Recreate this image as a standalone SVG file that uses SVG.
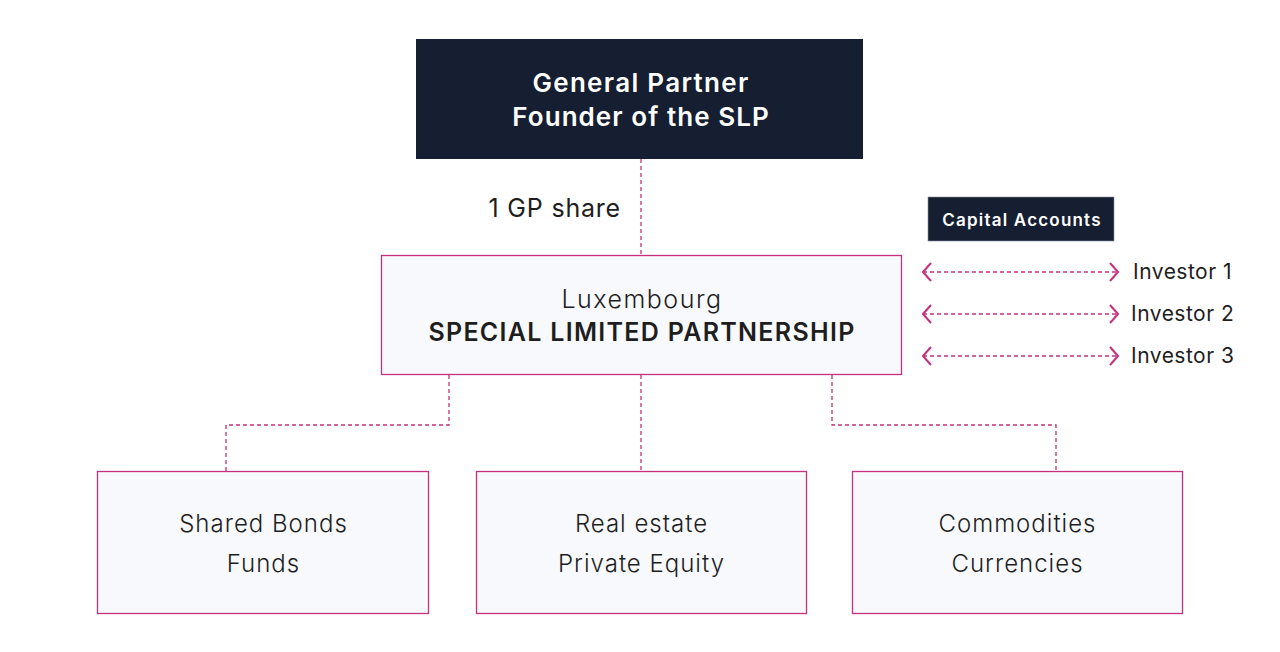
<svg xmlns="http://www.w3.org/2000/svg" width="1280" height="652" viewBox="0 0 1280 652">
<defs>
<style>
.dark{fill:#161e32}
.box{fill:#f8f9fd;stroke:#c4317c;stroke-width:1.3}
.con{fill:none;stroke:#c4317c;stroke-width:1.3;stroke-dasharray:4 3}
.t{font-family:Inter,"Noto Sans",sans-serif;fill:#1e1e1e;text-anchor:middle}
.w{fill:#ffffff;font-weight:600}
.b{font-size:24px;font-weight:300;letter-spacing:1px}
.inv{font-size:21px;letter-spacing:0.5px;text-anchor:start}
</style>
<marker id="ah" viewBox="0 0 10 20" refX="9" refY="10" markerWidth="10" markerHeight="20" markerUnits="userSpaceOnUse" orient="auto-start-reverse">
<path d="M1,1 L9,10 L1,19" fill="none" stroke="#c4317c" stroke-width="2"/>
</marker>
</defs>
<rect width="1280" height="652" fill="#ffffff"/>
<g id="connectors">
<line class="con" x1="641" y1="159" x2="641" y2="255"/>
<line class="con" x1="641" y1="375" x2="641" y2="471"/>
<polyline class="con" points="449,375 449,425 226,425 226,471"/>
<polyline class="con" points="832,375 832,425 1056,425 1056,471"/>
<line class="con" x1="923" y1="272" x2="1118" y2="272" marker-start="url(#ah)" marker-end="url(#ah)"/>
<line class="con" x1="923" y1="314" x2="1118" y2="314" marker-start="url(#ah)" marker-end="url(#ah)"/>
<line class="con" x1="923" y1="356" x2="1118" y2="356" marker-start="url(#ah)" marker-end="url(#ah)"/>
</g>
<g id="gp">
<rect class="dark" x="416" y="39" width="447" height="120"/>
<text class="t w" x="641" y="92" font-size="26" letter-spacing="1.3">General Partner</text>
<text class="t w" x="641" y="126" font-size="26" letter-spacing="1.05">Founder of the SLP</text>
</g>
<g id="gp-share">
<text class="t" x="621" y="217" font-size="25" letter-spacing="0.8" style="text-anchor:end">1 GP share</text>
</g>
<g id="capital-accounts">
<rect class="dark" x="928" y="197" width="186" height="44" stroke="#8a90a0" stroke-width="0.6"/>
<text class="t w" x="1022" y="226" font-size="17" letter-spacing="1.2">Capital Accounts</text>
</g>
<g id="slp">
<rect class="box" x="381.5" y="255.5" width="520" height="119"/>
<text class="t" x="642" y="308" font-size="25" font-weight="300" letter-spacing="1.5">Luxembourg</text>
<text class="t" x="642" y="341" font-size="25" font-weight="600" letter-spacing="1.3">SPECIAL LIMITED PARTNERSHIP</text>
</g>
<g id="investor1"><text class="t inv" x="1133" y="279">Investor 1</text></g>
<g id="investor2"><text class="t inv" x="1131" y="321">Investor 2</text></g>
<g id="investor3"><text class="t inv" x="1131" y="363">Investor 3</text></g>
<g id="bonds">
<rect class="box" x="97.5" y="471.5" width="331" height="142"/>
<text class="t b" x="263.5" y="532">Shared Bonds</text>
<text class="t b" x="263.5" y="572">Funds</text>
</g>
<g id="realestate">
<rect class="box" x="476.5" y="471.5" width="330" height="142"/>
<text class="t b" x="641.5" y="532">Real estate</text>
<text class="t b" x="641.5" y="572">Private Equity</text>
</g>
<g id="commodities">
<rect class="box" x="852.5" y="471.5" width="330" height="142"/>
<text class="t b" x="1017.5" y="532">Commodities</text>
<text class="t b" x="1017.5" y="572">Currencies</text>
</g>
</svg>
